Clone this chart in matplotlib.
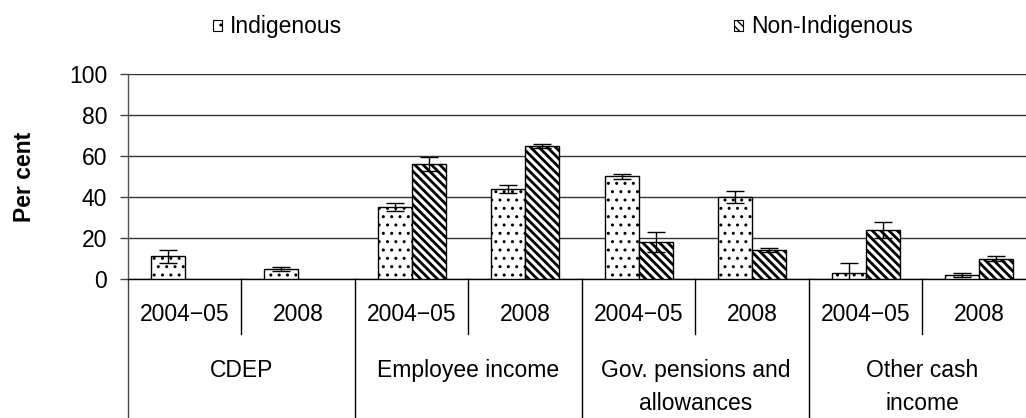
import numpy as np
import matplotlib
matplotlib.use("Agg")
import matplotlib.pyplot as plt
from matplotlib.patches import Patch

plt.rcParams["font.family"] = ["Liberation Sans", "DejaVu Sans"]
plt.rcParams["font.size"] = 16.5

# income source / survey year
groups = ["CDEP", "Employee income", "Gov. pensions and\nallowances", "Other cash\nincome"]
years = ["2004\u221205", "2008"]

indigenous = [11, 5, 35, 44, 50, 40, 3, 2]
indigenous_err = [3, 1, 2, 2, 1, 3, 5, 1]
non_indigenous = [np.nan, np.nan, 56, 65, 18, 14, 24, 10]
non_indigenous_err = [np.nan, np.nan, 3.5, 1, 5, 1, 4, 1]

W, H = 1026, 418
fig = plt.figure(figsize=(W / 100, H / 100), dpi=100)
# plot area runs a little past the right edge of the figure
ax = fig.add_axes([128 / W, (H - 279) / H, 908 / W, 205 / H])

x = np.arange(len(indigenous)) + 0.5
bw = 0.3

with plt.rc_context({"hatch.linewidth": 1.0}):
    b1 = ax.bar(x - bw / 2, indigenous, bw, color="white", edgecolor="black",
                linewidth=1, hatch="..", zorder=3, label="Indigenous")
with plt.rc_context({"hatch.linewidth": 2.0}):
    b2 = ax.bar(x + bw / 2, np.nan_to_num(non_indigenous), bw, color="white",
                edgecolor="black", linewidth=1, hatch="\\\\\\\\", zorder=3,
                label="Non-Indigenous")
    for i, v in enumerate(non_indigenous):
        if np.isnan(v):
            b2[i].set_visible(False)

ax.errorbar(x - bw / 2, indigenous, yerr=indigenous_err, fmt="none",
            ecolor="black", elinewidth=1, capsize=6.5, capthick=1, zorder=4)
ax.errorbar(x + bw / 2, non_indigenous, yerr=non_indigenous_err, fmt="none",
            ecolor="black", elinewidth=1, capsize=6.5, capthick=1, zorder=4)

ax.set_xlim(0, len(indigenous))
ax.set_ylim(0, 100)
ax.set_yticks(np.arange(0, 101, 20))
ax.yaxis.grid(True, color="#333333", linewidth=1)
ax.set_axisbelow(True)
ax.tick_params(axis="y", direction="out", length=6, width=1, color="#444444", pad=9)
ax.tick_params(axis="x", bottom=False, labelbottom=False)
for s in ["top", "right"]:
    ax.spines[s].set_visible(False)
ax.spines["left"].set_color("#555555")
ax.spines["bottom"].set_color("black")
ax.spines["left"].set_linewidth(1)
ax.spines["bottom"].set_linewidth(1)

ax.set_ylabel("Per cent", fontweight="bold", labelpad=24)

# two-level category labels under the axis
tr = ax.get_xaxis_transform()
ax.plot([0, 0], [0, -0.72], transform=tr, color="#444444", lw=1, clip_on=False)
for i in range(len(indigenous)):
    ax.text(i + 0.5, -0.175, years[i % 2], transform=tr, ha="center", va="center")
    if i % 2 == 0:
        ax.plot([i + 1, i + 1], [0, -0.27], transform=tr, color="black", lw=1, clip_on=False)
    elif i + 1 < len(indigenous):
        ax.plot([i + 1, i + 1], [0, -0.72], transform=tr, color="black", lw=1, clip_on=False)
for g, name in enumerate(groups):
    ax.text(2 * g + 1, -0.39, name, transform=tr, ha="center", va="top",
            linespacing=1.55)

handles = [Patch(facecolor="white", edgecolor="black", hatch="..", linewidth=0.8),
           Patch(facecolor="white", edgecolor="black", hatch="\\\\\\\\", linewidth=0.8)]
fig.legend(handles, ["Indigenous", "Non-Indigenous"], ncol=2, frameon=False,
           loc="center left", bbox_to_anchor=(213 / W, 1 - 27 / H),
           borderpad=0, borderaxespad=0, handlelength=0.4, handleheight=0.4,
           handletextpad=0.35, columnspacing=17.1)

fig.savefig("out.png", dpi=100)
